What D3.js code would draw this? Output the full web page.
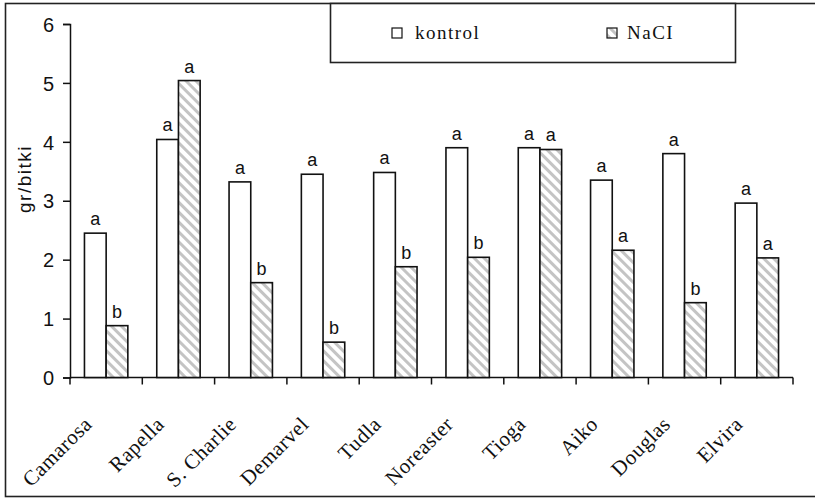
<!DOCTYPE html>
<html>
<head>
<meta charset="utf-8">
<script src="https://cdn.jsdelivr.net/npm/d3@7"></script>
<style>
  body { margin: 0; background: #fff; }
</style>
</head>
<body>
<svg id="vis" width="815" height="499"></svg>
<script>
// values
const cultivars = ["Camarosa", "Rapella", "S. Charlie", "Demarvel", "Tudla", "Noreaster", "Tioga", "Aiko", "Douglas", "Elvira"];
const kontrol = [2.45, 4.04, 3.32, 3.45, 3.48, 3.9, 3.9, 3.35, 3.8, 2.96];
const nacl = [0.88, 5.04, 1.61, 0.6, 1.88, 2.04, 3.87, 2.16, 1.27, 2.03];
const kontrolLetters = ["a", "a", "a", "a", "a", "a", "a", "a", "a", "a"];
const naclLetters = ["b", "a", "b", "b", "b", "b", "a", "a", "b", "a"];
const yTicks = [0, 1, 2, 3, 4, 5, 6];
const seriesNames = ["kontrol", "NaCI"];

const svg = d3.select("#vis");

// hatch for the NaCl bars
const defs = svg.append("defs");
const pat = defs.append("pattern")
  .attr("id", "hatch")
  .attr("patternUnits", "userSpaceOnUse")
  .attr("width", 7).attr("height", 7)
  .attr("patternTransform", "rotate(45)");
pat.append("rect").attr("width", 7).attr("height", 7).attr("fill", "#fff");
pat.append("rect").attr("x", 0).attr("y", 0).attr("width", 7).attr("height", 3).attr("fill", "#c4c4c4");

// outer frame (right side is cut off in the picture)
svg.append("rect")
  .attr("x", 5.5).attr("y", 3.5)
  .attr("width", 830).attr("height", 493)
  .attr("fill", "none").attr("stroke", "#222").attr("stroke-width", 1.6);

const mLeft = 70, mRight = 793, mTop = 24, mBottom = 377.5;

const x = d3.scaleBand().domain(cultivars).range([mLeft, mRight]).paddingInner(0.4).paddingOuter(0.2);
const x0 = d3.scaleBand().domain(cultivars).range([mLeft, mRight]);
const sub = d3.scaleBand().domain(seriesNames).range([0, x.bandwidth()]);
const y = d3.scaleLinear().domain([0, 6]).range([mBottom, mTop]);

// y axis
const yAxis = svg.append("g")
  .attr("transform", `translate(${mLeft},0)`)
  .call(d3.axisLeft(y).tickValues(yTicks).tickSize(7).tickPadding(9).tickFormat(d3.format("d")));
yAxis.select(".domain").attr("stroke", "#111").attr("stroke-width", 1.5);
yAxis.selectAll(".tick line").attr("stroke", "#111").attr("stroke-width", 1.5);
yAxis.selectAll("text")
  .attr("font-family", "Liberation Sans, Arial, sans-serif")
  .attr("font-size", 20).attr("fill", "#111")
  .attr("dy", "0.36em");

// x axis line + ticks at category boundaries
const xAxisG = svg.append("g").attr("transform", `translate(0,${mBottom})`);
xAxisG.append("line").attr("x1", mLeft).attr("x2", mRight).attr("stroke", "#111").attr("stroke-width", 1.5);
const bounds = cultivars.map(c => x0(c)).concat([mRight]);
xAxisG.selectAll(".xt").data(bounds).join("line")
  .attr("x1", d => d).attr("x2", d => d).attr("y1", 0).attr("y2", 7)
  .attr("stroke", "#111").attr("stroke-width", 1.5);

// bars
const groups = svg.selectAll(".grp")
  .data(cultivars.map((c, i) => ({c, vals: [
    {s: "kontrol", v: kontrol[i], l: kontrolLetters[i]},
    {s: "NaCI", v: nacl[i], l: naclLetters[i]}
  ]})))
  .join("g")
  .attr("class", "grp")
  .attr("transform", d => `translate(${x(d.c)},0)`);

groups.selectAll("rect").data(d => d.vals).join("rect")
  .attr("x", d => sub(d.s))
  .attr("y", d => y(d.v))
  .attr("width", sub.bandwidth())
  .attr("height", d => mBottom - y(d.v))
  .attr("fill", d => d.s === "kontrol" ? "#fff" : "url(#hatch)")
  .attr("stroke", "#111").attr("stroke-width", 1.6);

groups.selectAll("text").data(d => d.vals).join("text")
  .attr("x", d => sub(d.s) + sub.bandwidth() / 2)
  .attr("y", d => y(d.v) - 8)
  .attr("text-anchor", "middle")
  .attr("font-family", "Liberation Sans, Arial, sans-serif")
  .attr("font-size", 18).attr("fill", "#111")
  .text(d => d.l);

// x labels, rotated
svg.selectAll(".xl").data(cultivars).join("text")
  .attr("class", "xl")
  .attr("transform", d => `translate(${x0(d) + x0.bandwidth() / 2 - 13},${mBottom + 48}) rotate(-45)`)
  .attr("text-anchor", "end")
  .attr("font-family", "Liberation Serif, Times New Roman, serif")
  .attr("font-size", 21).attr("letter-spacing", 0.5).attr("fill", "#111")
  .text(d => d);

// y label
svg.append("text")
  .attr("transform", "translate(31,179) rotate(-90)")
  .attr("text-anchor", "middle")
  .attr("font-family", "Liberation Sans, Arial, sans-serif")
  .attr("font-size", 19).attr("letter-spacing", 1.5).attr("fill", "#111")
  .text("gr/bitki");

// legend
const lg = svg.append("g");
lg.append("rect").attr("x", 330.5).attr("y", 3.5).attr("width", 405).attr("height", 59)
  .attr("fill", "#fff").attr("stroke", "#222").attr("stroke-width", 1.6);
const legX = [392, 607];
seriesNames.forEach((s, i) => {
  lg.append("rect").attr("x", legX[i]).attr("y", 28).attr("width", 10).attr("height", 10)
    .attr("fill", i === 0 ? "#fff" : "url(#hatch)").attr("stroke", "#111").attr("stroke-width", 1.2);
  lg.append("text").attr("x", legX[i] + (i === 0 ? 23 : 20)).attr("y", 39)
    .attr("font-family", "Liberation Serif, Times New Roman, serif")
    .attr("font-size", 19).attr("letter-spacing", 1.5).attr("fill", "#111")
    .text(s);
});
</script>
</body>
</html>
